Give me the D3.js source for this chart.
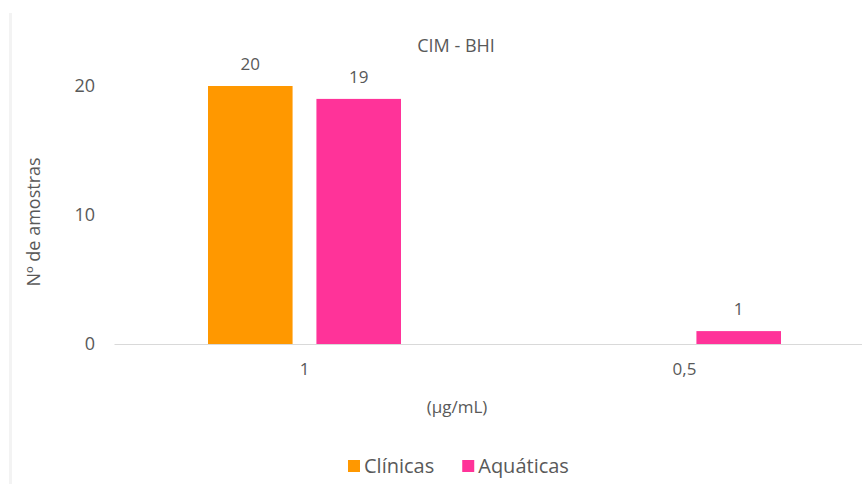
<!DOCTYPE html>
<html>
<head>
<meta charset="utf-8">
<script src="https://cdn.jsdelivr.net/npm/d3@7"></script>
<style>
  html, body { margin: 0; padding: 0; background: #fff; }
  svg { display: block; }
  text { font-family: "Open Sans", "Noto Sans", sans-serif; fill: #595959; }
</style>
</head>
<body>
<svg id="chart" width="862" height="484"></svg>
<script>
// Concentration categories and sample counts per origin
const categories = ["1", "0,5"];
const seriesNames = ["Clínicas", "Aquáticas"];
const clinicas = [20, 0];
const aquaticas = [19, 1];
const yTicks = [0, 10, 20];
const colors = ["#FF9800", "#FF3399"];

const svg = d3.select("#chart");
const W = 862, H = 484;

// faint outer frame on the left side
svg.append("line")
  .attr("x1", 10.5).attr("x2", 10.5).attr("y1", 13).attr("y2", H)
  .attr("stroke", "#f3f3f3").attr("stroke-width", 3);

const plot = { left: 114.5, right: 874.5, top: 60, bottom: 344 };

const x = d3.scaleBand().domain(categories).range([plot.left, plot.right]).paddingInner(0).paddingOuter(0);
const inner = d3.scaleBand().domain(seriesNames).range([0, 193]).paddingInner(0.22);
const groupOffset = (x.bandwidth() - 193) / 2;
const y = d3.scaleLinear().domain([0, 22]).range([plot.bottom, plot.bottom - 22 * 12.9]);

const rows = categories.map((c, i) => ({ cat: c, values: [clinicas[i], aquaticas[i]] }));

// bars with value labels
const g = svg.append("g");
rows.forEach(r => {
  r.values.forEach((v, j) => {
    if (v <= 0) return;
    const bx = x(r.cat) + groupOffset + inner(seriesNames[j]);
    g.append("rect")
      .attr("x", bx).attr("width", inner.bandwidth())
      .attr("y", y(v)).attr("height", y(0) - y(v))
      .attr("fill", colors[j]);
    g.append("text")
      .attr("x", bx + inner.bandwidth() / 2).attr("y", y(v) - 16)
      .attr("text-anchor", "middle").attr("font-size", 17)
      .text(v);
  });
});

// baseline
svg.append("line")
  .attr("x1", plot.left).attr("x2", W).attr("y1", plot.bottom + 0.5).attr("y2", plot.bottom + 0.5)
  .attr("stroke", "#d9d9d9").attr("stroke-width", 1.2);

// y axis labels
const yAxis = d3.axisLeft(y).tickValues(yTicks).tickSize(0).tickPadding(0).tickFormat(d3.format("d"));
const ya = svg.append("g").attr("transform", "translate(95,0)").call(yAxis);
ya.select(".domain").remove();
ya.selectAll("text").attr("font-size", 18).attr("fill", "#595959").style("font-family", '"Open Sans", sans-serif');

// x axis labels
const xAxis = d3.axisBottom(x).tickSize(0).tickPadding(0);
const xa = svg.append("g").attr("transform", `translate(0,375)`).call(xAxis);
xa.select(".domain").remove();
xa.selectAll("text").attr("font-size", 17).attr("fill", "#595959").attr("dy", null).style("font-family", '"Open Sans", sans-serif');

// title
svg.append("text").attr("x", 456).attr("y", 52).attr("text-anchor", "middle")
  .attr("font-size", 18).text("CIM - BHI");

// axis titles
svg.append("text").attr("x", 457).attr("y", 413).attr("text-anchor", "middle")
  .attr("font-size", 17).text("(µg/mL)");
svg.append("text")
  .attr("transform", "translate(40,222) rotate(-90)")
  .attr("text-anchor", "middle").attr("font-size", 18).text("Nº de amostras");

// legend
const legend = svg.append("g").attr("transform", "translate(348,466)");
let lx = 0;
seriesNames.forEach((name, i) => {
  const item = legend.append("g").attr("transform", `translate(${lx},0)`);
  item.append("rect").attr("x", 0).attr("y", -6).attr("width", 12).attr("height", 12).attr("fill", colors[i]);
  const t = item.append("text").attr("x", 16).attr("y", 7)
    .attr("font-size", 20).text(name);
  lx += 16 + t.node().getComputedTextLength() + 28;
});
</script>
</body>
</html>
